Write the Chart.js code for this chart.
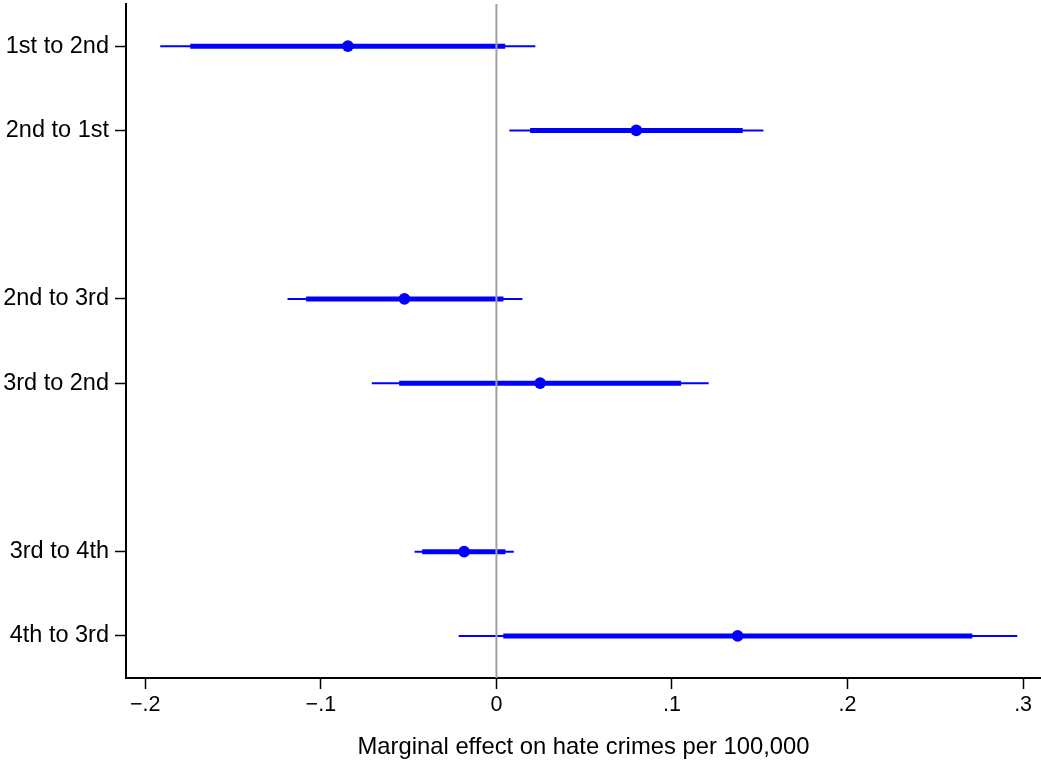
<!DOCTYPE html>
<html>
<head>
<meta charset="utf-8">
<script src="https://cdn.jsdelivr.net/npm/chart.js@4/dist/chart.umd.min.js"></script>
<style>
  html, body { margin: 0; padding: 0; background: #fff; }
  #wrap { width: 1041px; height: 761px; }
</style>
</head>
<body>
<div id="wrap"><canvas id="c" width="1041" height="761"></canvas></div>
<script>
// rows, top to bottom (gaps between the pairs)
const categories = ['1st to 2nd', '2nd to 1st', '2nd to 3rd', '3rd to 2nd', '3rd to 4th', '4th to 3rd'];
const rowPos = [1, 2, 4, 5, 7, 8];

const estimates = [-0.0846, 0.0797, -0.0524, 0.0249, -0.0184, 0.1374];
// wide (thin line) interval
const outerLo = [-0.1915, 0.0074, -0.1190, -0.0710, -0.0466, -0.0215];
const outerHi = [0.0222, 0.1521, 0.0148, 0.1209, 0.0099, 0.2967];
// narrow (thick line) interval
const innerLo = [-0.1744, 0.0192, -0.1084, -0.0554, -0.0423, 0.0039];
const innerHi = [0.0050, 0.1403, 0.0040, 0.1052, 0.0051, 0.2711];

const xTickValues = [-0.2, -0.1, 0, 0.1, 0.2, 0.3];
const xTickLabels = ['\u2212.2', '\u2212.1', '0', '.1', '.2', '.3'];

const BLUE = '#0000ff';
const FONT = '"Liberation Sans", Arial, Helvetica, sans-serif';

let datasets = [];
// reference line at zero, drawn on top
datasets.push({
    type: 'line',
    data: [{x: 0, y: 0.5}, {x: 0, y: 8.5}],
    borderColor: '#a0a0a0',
    borderWidth: 2,
    pointRadius: 0,
    order: 0
});
datasets.push({
    type: 'scatter',
    data: rowPos.map((y, i) => ({x: estimates[i], y: y})),
    backgroundColor: BLUE,
    borderWidth: 0,
    pointRadius: 5.8,
    order: 1
});
for (let i = 0; i < rowPos.length; i++) {
    datasets.push({
        type: 'line',
        data: [{x: innerLo[i], y: rowPos[i]}, {x: innerHi[i], y: rowPos[i]}],
        borderColor: BLUE,
        borderWidth: 5,
        pointRadius: 0,
        order: 2
    });
    datasets.push({
        type: 'line',
        data: [{x: outerLo[i], y: rowPos[i]}, {x: outerHi[i], y: rowPos[i]}],
        borderColor: BLUE,
        borderWidth: 2,
        pointRadius: 0,
        order: 3
    });
}

new Chart(document.getElementById('c'), {
    type: 'scatter',
    data: {datasets: datasets},
    options: {
        responsive: false,
        animation: false,
        layout: {autoPadding: false, padding: {top: 4, right: 0, left: 0, bottom: 0}},
        plugins: {legend: {display: false}, tooltip: {enabled: false}},
        scales: {
            x: {
                type: 'linear',
                min: -0.211,
                max: 0.3102,
                afterBuildTicks: s => { s.ticks = xTickValues.map(v => ({value: v})); },
                afterFit: s => { s.height = 83; s.paddingLeft = 0; s.paddingRight = 0; },
                ticks: {
                    color: '#000',
                    font: {family: FONT, size: 21.5},
                    padding: 3,
                    maxRotation: 0,
                    callback: v => xTickLabels[xTickValues.indexOf(v)]
                },
                grid: {drawOnChartArea: false, tickLength: 11, tickColor: '#000', tickWidth: 1.5},
                border: {color: '#000', width: 2},
                title: {
                    display: true,
                    text: 'Marginal effect on hate crimes per 100,000',
                    color: '#000',
                    font: {family: FONT, size: 23.8},
                    padding: {top: 0, bottom: -1}
                }
            },
            y: {
                type: 'linear',
                reverse: true,
                min: 0.5,
                max: 8.5,
                afterBuildTicks: s => { s.ticks = rowPos.map(v => ({value: v})); },
                afterFit: s => { s.width = 126; s.paddingTop = 0; s.paddingBottom = 0; },
                ticks: {
                    color: '#000',
                    font: {family: FONT, size: 23.5},
                    padding: 6,
                    callback: v => categories[rowPos.indexOf(v)]
                },
                grid: {drawOnChartArea: false, tickLength: 11, tickColor: '#000', tickWidth: 1.5},
                border: {color: '#000', width: 2}
            }
        }
    }
});
</script>
</body>
</html>
